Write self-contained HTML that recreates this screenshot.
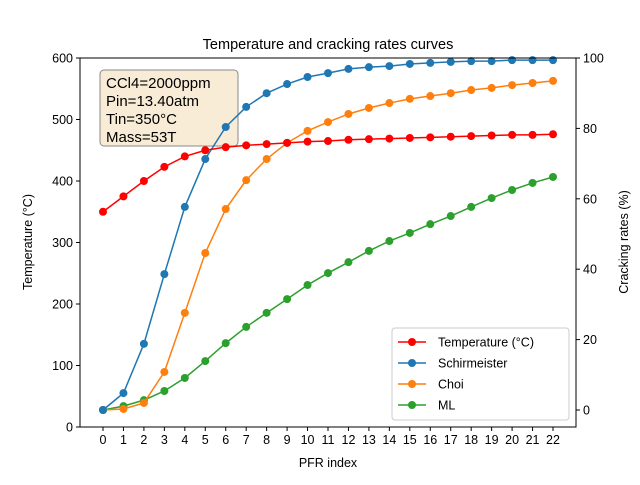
<!DOCTYPE html>
<html><head><meta charset="utf-8"><style>
body{margin:0;background:#fff}
svg{font-family:"Liberation Sans","DejaVu Sans",sans-serif}
</style></head><body>
<svg id="c" width="640" height="480" viewBox="0 0 640 480" xmlns="http://www.w3.org/2000/svg">
<rect x="0" y="0" width="640" height="480" fill="#fff"/>
<text x="328" y="49" font-size="14.5" text-anchor="middle">Temperature and cracking rates curves</text>
<g>
<rect x="100" y="70" width="138" height="76" rx="4" fill="#f9ecd6" stroke="#888" stroke-width="1"/>
<text font-size="15" x="106" y="88">CCl4=2000ppm</text>
<text font-size="15" x="106" y="106">Pin=13.40atm</text>
<text font-size="15" x="106" y="124">Tin=350°C</text>
<text font-size="15" x="106" y="142">Mass=53T</text>
</g>
<g id="plot"></g>
<rect x="80" y="58" width="496" height="369" fill="none" stroke="#000" stroke-width="1"/>
<text x="328" y="467" font-size="12.5" text-anchor="middle">PFR index</text>
<text transform="translate(32,242) rotate(-90)" font-size="12.5" text-anchor="middle">Temperature (°C)</text>
<text transform="translate(628,242) rotate(-90)" font-size="12.5" text-anchor="middle">Cracking rates (%)</text>
<g id="legend">
<rect x="392" y="328" width="177" height="92" rx="3" fill="#fff" fill-opacity="0.8" stroke="#ccc"/>
</g>
</svg>
<script>
const categories=[0,1,2,3,4,5,6,7,8,9,10,11,12,13,14,15,16,17,18,19,20,21,22];
const temperature=[350,375,400,423,440,450,455,458,460,462,464,465,467,468,469,470,471,472,473,474,475,475,476];
const schirmeister=[0,4.8,18.8,38.6,57.7,71.3,80.4,86.1,90,92.6,94.6,95.7,96.9,97.4,97.7,98.3,98.6,98.9,99.1,99.1,99.4,99.4,99.4];
const choi=[0,0.3,2,10.8,27.6,44.6,57.1,65.3,71.3,75.9,79.3,81.8,84.1,85.8,87.2,88.4,89.2,90,90.9,91.5,92.3,92.9,93.5];
const ml=[0,1.1,2.8,5.4,9.1,13.9,19,23.6,27.6,31.5,35.5,38.9,42,45.2,48,50.3,52.8,55.1,57.7,60.2,62.5,64.5,66.2];
const leftTicks=[0,100,200,300,400,500,600];
const rightTicks=[0,20,40,60,80,100];
const seriesNames=["Temperature (°C)","Schirmeister","Choi","ML"];
const NS="http://www.w3.org/2000/svg";
const x=i=>103+(i-0)*(450/22);
const yL=v=>427-v*(369/600);
const yR=v=>410-v*3.52;
const plot=document.getElementById('plot');
function mk(tag,attrs,parent){const e=document.createElementNS(NS,tag);for(const k in attrs)e.setAttribute(k,attrs[k]);(parent||plot).appendChild(e);return e;}
categories.forEach(c=>{
  mk('line',{x1:x(c),x2:x(c),y1:427,y2:431,stroke:'#000'});
  const t=mk('text',{x:x(c),y:444,'font-size':12.5,'text-anchor':'middle'});t.textContent=c;
  
  
});
leftTicks.forEach(v=>{
  mk('line',{x1:76,x2:80,y1:yL(v),y2:yL(v),stroke:'#000'});
  const t=mk('text',{x:73,y:yL(v)+4.5,'font-size':12.5,'text-anchor':'end'});t.textContent=v;
  
  
});
rightTicks.forEach(v=>{
  mk('line',{x1:576,x2:580,y1:yR(v),y2:yR(v),stroke:'#000'});
  const t=mk('text',{x:583,y:yR(v)+4.5,'font-size':12.5});t.textContent=v;
  
  
});
const colors=['#ff0000','#1f77b4','#ff7f0e','#2ca02c'];
const data=[temperature,schirmeister,choi,ml];
const scales=[yL,yR,yR,yR];
[3,2,1,0].forEach(s=>{
  const g=mk('g',{});
  
  
  const pts=data[s].map((v,i)=>x(categories[i])+','+scales[s](v)).join(' ');
  mk('polyline',{points:pts,fill:'none',stroke:colors[s],'stroke-width':1.5},g);
  data[s].forEach((v,i)=>{
    const p=mk('circle',{cx:x(categories[i]),cy:scales[s](v),r:4,fill:colors[s]},g);
    
    
  });
});
const lg=document.getElementById('legend');
seriesNames.forEach((n,i)=>{
  const yy=342+i*21;
  const g=mk('g',{},lg);
  
  
  mk('line',{x1:398,x2:426,y1:yy,y2:yy,stroke:colors[i],'stroke-width':1.5},g);
  mk('circle',{cx:412,cy:yy,r:4,fill:colors[i]},g);
  const t=mk('text',{x:438,y:yy+4.5,'font-size':12.5},g);t.textContent=n;
});
</script>
</body></html>
